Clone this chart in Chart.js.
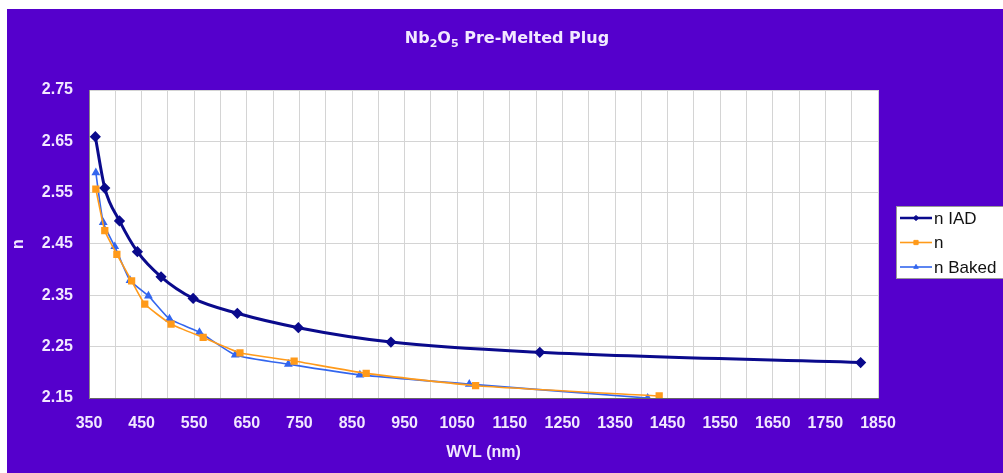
<!DOCTYPE html>
<html>
<head>
<meta charset="utf-8">
<title>Nb2O5 Pre-Melted Plug</title>
<script src="https://cdn.jsdelivr.net/npm/chart.js@4.4.1/dist/chart.umd.min.js"></script>
<style>
    body { margin: 0; background: #fff; }
    #chart { display: block; }
</style>
</head>
<body>
<canvas id="chart" width="1003" height="473"></canvas>
<script>
// values
const wvlIAD = [362, 380, 408, 442, 487, 548, 632, 748, 924, 1207, 1817];
const nIAD = [2.659, 2.559, 2.495, 2.435, 2.386, 2.344, 2.315, 2.287, 2.259, 2.239, 2.219];

const wvlN = [363, 380, 403, 431, 456, 506, 567, 637, 740, 877, 1085, 1434];
const nN = [2.557, 2.476, 2.430, 2.378, 2.333, 2.294, 2.268, 2.238, 2.222, 2.198, 2.174, 2.154];

const wvlBaked = [363, 377, 399, 428, 463, 503, 560, 628, 729, 865, 1073, 1412];
const nBaked = [2.589, 2.492, 2.445, 2.379, 2.349, 2.304, 2.278, 2.234, 2.216, 2.195, 2.177, 2.150];

const xTicks = [350, 400, 450, 500, 550, 600, 650, 700, 750, 800, 850, 900, 950, 1000, 1050, 1100,
    1150, 1200, 1250, 1300, 1350, 1400, 1450, 1500, 1550, 1600, 1650, 1700, 1750, 1800, 1850];
const yTicks = [2.15, 2.25, 2.35, 2.45, 2.55, 2.65, 2.75];

// title pieces: [text, isSubscript]
const titleParts = [["Nb", false], ["2", true], ["O", false], ["5", true], [" Pre-Melted Plug", false]];

const PURPLE = "#5500cc";
const LABEL = "#f2e8ff";
const TICK_FONT = { family: "'Liberation Sans', Arial, sans-serif", size: 16, weight: "bold" };

function toPoints(xs, ys) {
    return xs.map((x, i) => ({ x: x, y: ys[i] }));
}

// purple frame + white plot area
const backdrop = {
    id: "backdrop",
    beforeDraw(chart) {
        const ctx = chart.ctx;
        const a = chart.chartArea;
        ctx.save();
        ctx.fillStyle = PURPLE;
        ctx.fillRect(7, 9, chart.width - 7, chart.height - 9);
        ctx.fillStyle = "#fff";
        ctx.fillRect(a.left, a.top, a.right - a.left, a.bottom - a.top);
        ctx.restore();
    }
};

// title with real subscripts, centred like the original
const subTitle = {
    id: "subTitle",
    afterDraw(chart) {
        const ctx = chart.ctx;
        const big = "bold 16px 'DejaVu Sans', sans-serif";
        const small = "bold 11px 'DejaVu Sans', sans-serif";
        ctx.save();
        let total = 0;
        titleParts.forEach(p => {
            ctx.font = p[1] ? small : big;
            total += ctx.measureText(p[0]).width;
        });
        let x = 507 - total / 2;
        ctx.fillStyle = LABEL;
        ctx.textBaseline = "alphabetic";
        titleParts.forEach(p => {
            ctx.font = p[1] ? small : big;
            ctx.fillText(p[0], x, p[1] ? 47 : 43);
            x += ctx.measureText(p[0]).width;
        });
        ctx.restore();
    }
};

// Excel-like legend box at the right
const sideLegend = {
    id: "sideLegend",
    afterDraw(chart) {
        const ctx = chart.ctx;
        const x = 896, y = 206, w = 112, h = 72;
        ctx.save();
        ctx.fillStyle = "#fff";
        ctx.fillRect(x, y, w, h);
        ctx.strokeStyle = "#999";
        ctx.lineWidth = 1;
        ctx.strokeRect(x + 0.5, y + 0.5, w, h);
        ctx.font = "17px 'Liberation Sans', Arial, sans-serif";
        ctx.textBaseline = "middle";
        chart.data.datasets.forEach((ds, i) => {
            const cy = y + 12 + i * 24.5;
            ctx.strokeStyle = ds.borderColor;
            ctx.lineWidth = Math.min(ds.borderWidth, 2.5);
            ctx.beginPath();
            ctx.moveTo(x + 4, cy);
            ctx.lineTo(x + 36, cy);
            ctx.stroke();
            ctx.fillStyle = ds.backgroundColor;
            ctx.lineWidth = 1;
            Chart.helpers.drawPoint(ctx, {
                pointStyle: ds.pointStyle,
                radius: ds.pointRadius * 0.75,
                borderWidth: 1
            }, x + 20, cy);
            ctx.fillStyle = "#111";
            ctx.fillText(ds.label, x + 38, cy + 1);
        });
        ctx.restore();
    }
};

const ctx = document.getElementById("chart").getContext("2d");

new Chart(ctx, {
    type: "line",
    data: {
        datasets: [{
            label: "n IAD",
            data: toPoints(wvlIAD, nIAD),
            borderColor: "#0a0a8c",
            backgroundColor: "#0a0a8c",
            borderWidth: 3,
            pointStyle: "rectRot",
            pointRadius: 3.5,
            cubicInterpolationMode: "monotone"
        }, {
            label: "n",
            data: toPoints(wvlN, nN),
            borderColor: "#ff9a1a",
            backgroundColor: "#ff9a1a",
            borderWidth: 1.6,
            pointStyle: "rect",
            pointRadius: 4,
            tension: 0.15
        }, {
            label: "n Baked",
            data: toPoints(wvlBaked, nBaked),
            borderColor: "#3366ee",
            backgroundColor: "#3366ee",
            borderWidth: 1.6,
            pointStyle: "triangle",
            pointRadius: 3.5,
            tension: 0.15
        }]
    },
    options: {
        responsive: false,
        animation: false,
        layout: { padding: { left: 0, right: 125, top: 90, bottom: 0 } },
        plugins: {
            legend: { display: false },
            tooltip: { enabled: false },
            title: { display: false }
        },
        scales: {
            x: {
                type: "linear",
                min: 350,
                max: 1850,
                afterBuildTicks: s => { s.ticks = xTicks.map(v => ({ value: v })); },
                afterFit: s => { s.height = 75; },
                grid: { color: "#d4d4d4", drawTicks: false },
                border: { color: "#666" },
                ticks: {
                    color: LABEL,
                    padding: 16,
                    maxRotation: 0,
                    autoSkip: false,
                    font: TICK_FONT,
                    callback: v => ((v - 350) % 100 === 0 ? String(v) : "")
                },
                title: {
                    display: true,
                    text: "WVL (nm)",
                    color: LABEL,
                    font: TICK_FONT,
                    padding: { top: 0, bottom: 11 }
                }
            },
            y: {
                min: 2.15,
                max: 2.75,
                afterBuildTicks: s => { s.ticks = yTicks.map(v => ({ value: v })); },
                afterFit: s => { s.width = 89; },
                grid: { color: "#d4d4d4", drawTicks: false },
                border: { color: "#888" },
                ticks: {
                    color: LABEL,
                    padding: 16,
                    font: TICK_FONT,
                    callback: v => v.toFixed(2)
                },
                title: {
                    display: true,
                    text: "n",
                    color: LABEL,
                    font: TICK_FONT,
                    padding: { top: 9, bottom: 0 }
                }
            }
        }
    },
    plugins: [backdrop, subTitle, sideLegend]
});
</script>
</body>
</html>
